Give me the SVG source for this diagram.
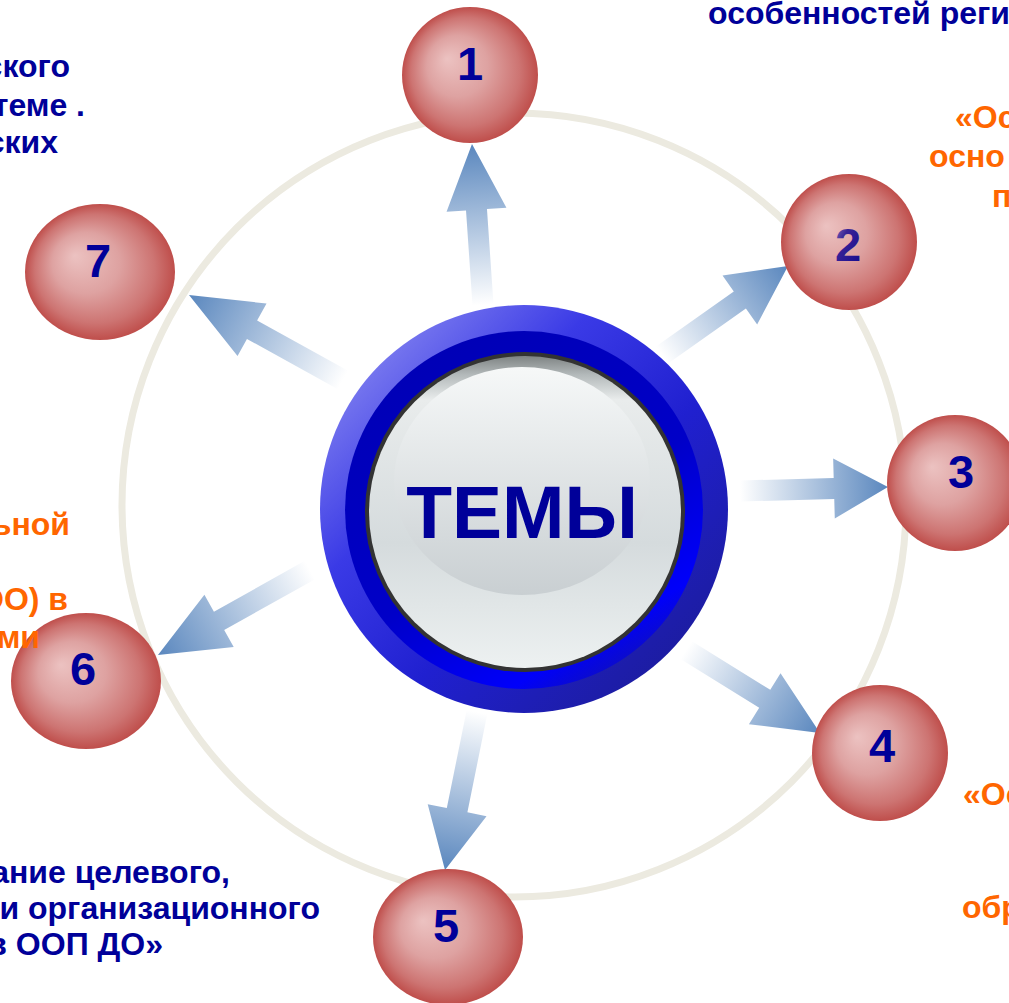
<svg xmlns="http://www.w3.org/2000/svg" width="1009" height="1003" viewBox="0 0 1009 1003">
<style>
.t{font-family:"Liberation Sans",Arial,sans-serif;font-weight:bold}
.num{font-size:47px;text-anchor:middle;fill:#000099}
.cap{font-size:32px}
.end{text-anchor:end}
.blue{fill:#000099}
.orange{fill:#FF6600}
.arrow{fill:url(#ag)}
</style>
<defs>
<radialGradient id="sph" cx="0.5" cy="0.5" r="0.5" fx="0.33" fy="0.38">
<stop offset="0" stop-color="#ECC2C1"/>
<stop offset="0.45" stop-color="#DEA2A1"/>
<stop offset="0.8" stop-color="#CD7472"/>
<stop offset="1" stop-color="#BF4E4B"/>
</radialGradient>
<linearGradient id="ag" x1="0" y1="0" x2="1" y2="0">
<stop offset="0" stop-color="#FFFFFF"/>
<stop offset="1" stop-color="#5A87BE"/>
</linearGradient>
<linearGradient id="outerBlue" x1="0.1" y1="0.1" x2="0.9" y2="0.9">
<stop offset="0" stop-color="#8282F0"/>
<stop offset="0.3" stop-color="#3A3AE6"/>
<stop offset="0.6" stop-color="#2020D0"/>
<stop offset="1" stop-color="#1C1C9C"/>
</linearGradient>
<linearGradient id="innerBlue" x1="0.2" y1="0" x2="0.8" y2="1">
<stop offset="0" stop-color="#0000B4"/>
<stop offset="0.55" stop-color="#0000C8"/>
<stop offset="0.85" stop-color="#0000FA"/>
<stop offset="1" stop-color="#1414A8"/>
</linearGradient>
<linearGradient id="silver" x1="0" y1="0" x2="0" y2="1">
<stop offset="0" stop-color="#7E8383"/>
<stop offset="0.06" stop-color="#B3B9BA"/>
<stop offset="0.14" stop-color="#E9ECEC"/>
<stop offset="0.6" stop-color="#D5DBDD"/>
<stop offset="1" stop-color="#EDF1F1"/>
</linearGradient>
<linearGradient id="gloss" x1="0" y1="0" x2="0" y2="1">
<stop offset="0" stop-color="#F6F8F8"/>
<stop offset="1" stop-color="#C9CFD2"/>
</linearGradient>
<linearGradient id="two" x1="0" y1="0" x2="1" y2="1">
<stop offset="0" stop-color="#9484BC"/>
<stop offset="0.35" stop-color="#3A2496"/>
<stop offset="1" stop-color="#10088E"/>
</linearGradient>
</defs>
<rect width="1009" height="1003" fill="#FFFFFF"/>
<circle id="orbit" cx="514" cy="505" r="392" fill="none" stroke="#ECEAE0" stroke-width="7"/>
<g id="connectors">
<polygon class="arrow" transform="translate(483,305) rotate(-93.91)" points="0,-10.5 95.4,-10.5 95.4,-30 161.4,0 95.4,30 95.4,10.5 0,10.5"/>
<polygon class="arrow" transform="translate(662,355) rotate(-35.23)" points="0,-10.5 95.3,-10.5 95.3,-30 154.3,0 95.3,30 95.3,10.5 0,10.5"/>
<polygon class="arrow" transform="translate(740,491) rotate(-1.55)" points="0,-10.5 94,-10.5 94,-30 148,0 94,30 94,10.5 0,10.5"/>
<polygon class="arrow" transform="translate(686,650) rotate(31.77)" points="0,-10.5 92.6,-10.5 92.6,-30 157.6,0 92.6,30 92.6,10.5 0,10.5"/>
<polygon class="arrow" transform="translate(477,712) rotate(101.45)" points="0,-10.5 100.2,-10.5 100.2,-30 161.2,0 100.2,30 100.2,10.5 0,10.5"/>
<polygon class="arrow" transform="translate(310,570) rotate(150.78)" points="0,-10.5 104.2,-10.5 104.2,-30 174.2,0 104.2,30 104.2,10.5 0,10.5"/>
<polygon class="arrow" transform="translate(343,380) rotate(-151.1)" points="0,-10.5 103.9,-10.5 103.9,-30 175.9,0 103.9,30 103.9,10.5 0,10.5"/>
</g>
<g id="node1"><circle cx="470" cy="75" r="68" fill="url(#sph)"/><text class="t num" x="470" y="80">1</text></g>
<g id="node2"><circle cx="849" cy="242" r="68" fill="url(#sph)"/><text class="t num" x="848" y="261" style="fill:url(#two)">2</text></g>
<g id="node3"><circle cx="955" cy="483" r="68" fill="url(#sph)"/><text class="t num" x="961" y="488">3</text></g>
<g id="node4"><circle cx="880" cy="753" r="68" fill="url(#sph)"/><text class="t num" x="882" y="762">4</text></g>
<g id="node5"><ellipse cx="448" cy="937" rx="75" ry="68" fill="url(#sph)"/><text class="t num" x="446" y="942">5</text></g>
<g id="node6"><ellipse cx="86" cy="681" rx="75" ry="68" fill="url(#sph)"/><text class="t num" x="83" y="685">6</text></g>
<g id="node7"><ellipse cx="100" cy="272" rx="75" ry="68" fill="url(#sph)"/><text class="t num" x="98" y="277">7</text></g>
<g id="center">
<circle cx="524" cy="509" r="204" fill="url(#outerBlue)"/>
<circle cx="524" cy="510" r="179" fill="url(#innerBlue)"/>
<circle cx="525" cy="512" r="160" fill="#333333"/>
<circle cx="525" cy="512" r="156" fill="url(#silver)"/>
<ellipse cx="522" cy="481" rx="128" ry="114" fill="url(#gloss)"/>
<text class="t" x="522" y="538" font-size="75" text-anchor="middle" fill="#000099">ТЕМЫ</text>
</g>
<g id="captions">
<text class="t cap blue" x="708" y="24">особенностей реги</text>
<text class="t cap orange" x="955" y="128">«Ос</text>
<text class="t cap orange" x="929" y="167">осно</text>
<text class="t cap orange" x="992" y="207">п</text>
<text class="t cap orange" x="963" y="805">«Ос</text>
<text class="t cap orange" x="962" y="918">обр</text>
<text class="t cap blue end" x="230" y="883">ание целевого,</text>
<text class="t cap blue end" x="320" y="919">и организационного</text>
<text class="t cap blue end" x="163" y="955">в ООП ДО»</text>
<text class="t cap orange end" x="70" y="535">ьной</text>
<text class="t cap orange end" x="68" y="610">ОО) в</text>
<text class="t cap orange end" x="40" y="648">ми</text>
<text class="t cap blue end" x="70" y="77">ского</text>
<text class="t cap blue end" x="85" y="116">теме  .</text>
<text class="t cap blue end" x="58" y="153">ских</text>
</g>
</svg>
